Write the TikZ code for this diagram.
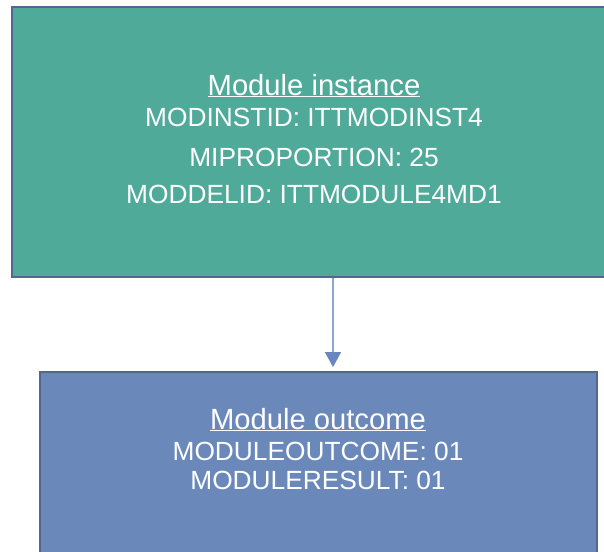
\documentclass[tikz,border=0pt]{standalone}
\usepackage{fontspec}
\setmainfont{Liberation Sans}
\usepackage{tikz}
\usetikzlibrary{arrows.meta, positioning, calc}

\definecolor{instfill}{RGB}{79,170,154}
\definecolor{outfill}{RGB}{106,137,186}
\definecolor{boxline}{RGB}{80,104,142}
\definecolor{linkline}{RGB}{140,165,212}
\definecolor{linktip}{RGB}{106,134,190}

\begin{document}
\begin{tikzpicture}[x=1pt, y=-1pt,
    entity/.style={rectangle, draw=boxline, line width=1.8pt, inner sep=0pt},
    field/.style={anchor=base, text=white, inner sep=0pt, font=\fontsize{26.3}{30}\selectfont},
    heading/.style={field, font=\fontsize{29.2}{33}\selectfont},
    link/.style={draw=linkline, line width=1.4pt, -{Triangle[width=16pt,length=15pt,color=linktip,fill=linktip]}}
    ]
    \clip (0,0) rectangle (604,551);
    \useasboundingbox (0,0) rectangle (604,551);

    % the two boxes
    \node[entity, fill=instfill, minimum width=600pt, minimum height=270pt] (inst) at (312,142) {};
    \node[entity, fill=outfill, minimum width=557pt, minimum height=230pt] (outc) at (318.5,487) {};

    % fields of the module instance
    \node[heading] (insttitle) at (314,95) {\underline{Module instance}};
    \node[field] (instid) at (314,126) {MODINSTID: ITTMODINST4};
    \node[field] (instprop) at (314,166) {MIPROPORTION: 25};
    \node[field] (instmodel) at (314,203) {MODDELID: ITTMODULE4MD1};

    % fields of the module outcome
    \node[heading] (outtitle) at (318,429) {\underline{Module outcome}};
    \node[field] (outcome) at (318,460) {MODULEOUTCOME: 01};
    \node[field] (outresult) at (318,489) {MODULERESULT: 01};

    \coordinate (ax) at (333,0);
    \draw[link, shorten >=4pt] (inst.south -| ax) -- (outc.north -| ax);
\end{tikzpicture}
\end{document}
